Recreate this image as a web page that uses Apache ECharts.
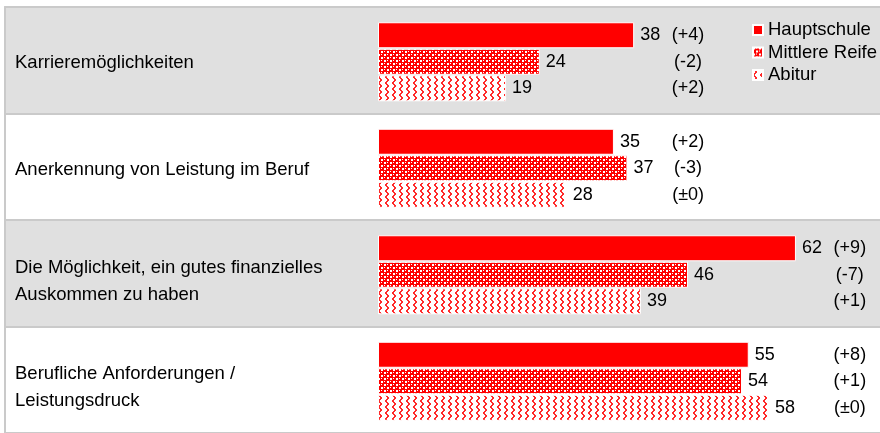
<html>
<head>
<meta charset="utf-8" />
<title></title>
<script type="text/javascript" src="https://cdn.jsdelivr.net/npm/echarts/dist/echarts.min.js"></script>
<style>
  html, body, #main { margin: 0; padding: 0; width: 880px; height: 433px; background: #fff; }
</style>
</head>
<body>
<div id="main"></div>
<script type="text/javascript">
// data
var categories = [
  'Karrieremöglichkeiten',
  'Anerkennung von Leistung im Beruf',
  'Die Möglichkeit, ein gutes finanzielles\nAuskommen zu haben',
  'Berufliche Anforderungen /\nLeistungsdruck'
];
var seriesNames = ['Hauptschule', 'Mittlere Reife', 'Abitur'];
var hauptschule = [38, 35, 62, 55];
var mittlereReife = [24, 37, 46, 54];
var abitur = [19, 28, 39, 58];
var changeHaupt = ['(+4)', '(+2)', '(+9)', '(+8)'];
var changeMittlere = ['(-2)', '(-3)', '(-7)', '(+1)'];
var changeAbitur = ['(+2)', '(±0)', '(+1)', '(±0)'];

// fill patterns
function makePattern(w, h, bg, fg, pts) {
  var c = document.createElement('canvas');
  c.width = w; c.height = h;
  var ctx = c.getContext('2d');
  ctx.fillStyle = bg; ctx.fillRect(0, 0, w, h);
  ctx.fillStyle = fg;
  pts.forEach(function (p) { ctx.fillRect(p[0], p[1], p[2] || 1, p[3] || 1); });
  return { image: c, repeat: 'repeat' };
}
var checkFill = makePattern(6, 6, '#ff0000', '#ffffff',
  [[0, 0, 2, 2], [3, 3, 2, 2], [3, 0, 1, 1], [0, 3, 1, 1]]);
var waveFill = makePattern(7, 6, '#ffffff', '#ff2a2a',
  [[1, 0, 2, 1], [2, 1, 2, 1], [2, 2, 2, 1], [1, 3, 2, 1], [0, 4, 2, 1], [0, 5, 2, 1]]);

// change labels sit in a column right of each row's longest bar
function anchorFor(i) {
  var m = Math.max(hauptschule[i], mittlereReife[i], abitur[i]);
  return m <= 40 ? 46 : 70;
}

var fontFamily = '"Liberation Sans", Arial, sans-serif';
var pxPerUnit = 6.741;
var xMin = -(378 - 5) / pxPerUnit;
var xMax = xMin + 875 / pxPerUnit;
var barW = 26;

function mainSeries(name, values, fill, stack) {
  return {
    name: name,
    type: 'bar',
    stack: stack,
    barWidth: barW,
    barGap: '2%',
    data: values,
    itemStyle: { color: fill, borderColor: '#ffffff', borderWidth: 1 },
    label: {
      show: true, position: 'right', distance: 6,
      color: '#000', fontSize: 18, fontFamily: fontFamily
    },
    silent: true
  };
}
function changeSeries(values, changes, stack) {
  return {
    name: stack + '-change',
    type: 'bar',
    stack: stack,
    barWidth: barW,
    barGap: '2%',
    data: values.map(function (v, i) { return anchorFor(i) - v; }),
    itemStyle: { color: 'rgba(0,0,0,0)' },
    label: {
      show: true, position: ['100%', '50%'], align: 'center', verticalAlign: 'middle',
      color: '#000', fontSize: 18, fontFamily: fontFamily,
      formatter: function (p) { return changes[p.dataIndex]; }
    },
    silent: true
  };
}

var chart = echarts.init(document.getElementById('main'), null, { renderer: 'canvas' });
chart.setOption({
  animation: false,
  backgroundColor: '#ffffff',
  textStyle: { fontFamily: fontFamily },
  legend: {
    data: seriesNames,
    orient: 'vertical',
    left: 747, top: 15,
    icon: 'rect', itemWidth: 10, itemHeight: 10, itemGap: 2.5,
    textStyle: { fontSize: 18.5, lineHeight: 20, color: '#000', fontFamily: fontFamily },
    selectedMode: false
  },
  grid: { left: 5, right: 0, top: 7, bottom: -5 },
  xAxis: {
    type: 'value', position: 'top', min: xMin, max: xMax,
    axisLine: { show: true, lineStyle: { color: '#cacaca', width: 2 } },
    axisTick: { show: false }, axisLabel: { show: false }, splitLine: { show: false }
  },
  yAxis: {
    type: 'category', data: categories, inverse: true,
    axisLine: { show: true, onZero: false, lineStyle: { color: '#cacaca', width: 2 } },
    axisTick: { show: false },
    axisLabel: {
      inside: true, margin: 10, align: 'left',
      // a small blank line on top pushes each block a bit below the row centre
      formatter: function (v) {
        var lines = v.split('\n');
        var spacer = lines.length > 1 ? '{sm| }' : '{ss| }';
        return spacer + '\n' + lines.map(function (l) { return '{t|' + l + '}'; }).join('\n');
      },
      rich: {
        ss: { fontSize: 4, lineHeight: 6 },
        sm: { fontSize: 10, lineHeight: 16 },
        t: { color: '#000', fontSize: 18.5, lineHeight: 27, fontFamily: fontFamily }
      }
    },
    splitLine: { show: true, lineStyle: { color: '#cacaca', width: 2 } },
    splitArea: { show: true, areaStyle: { color: ['#e0e0e0', '#ffffff'] } },
    z: 1
  },
  series: [
    // thin empty slot that nudges the bar group a little below the row centre
    { name: 'spacer', type: 'bar', stack: 'spacer', barWidth: 3, barGap: '2%', data: [], silent: true },
    mainSeries(seriesNames[0], hauptschule, '#ff0000', 'h'),
    changeSeries(hauptschule, changeHaupt, 'h'),
    mainSeries(seriesNames[1], mittlereReife, checkFill, 'm'),
    changeSeries(mittlereReife, changeMittlere, 'm'),
    mainSeries(seriesNames[2], abitur, waveFill, 'a'),
    changeSeries(abitur, changeAbitur, 'a')
  ]
});
</script>
</body>
</html>
